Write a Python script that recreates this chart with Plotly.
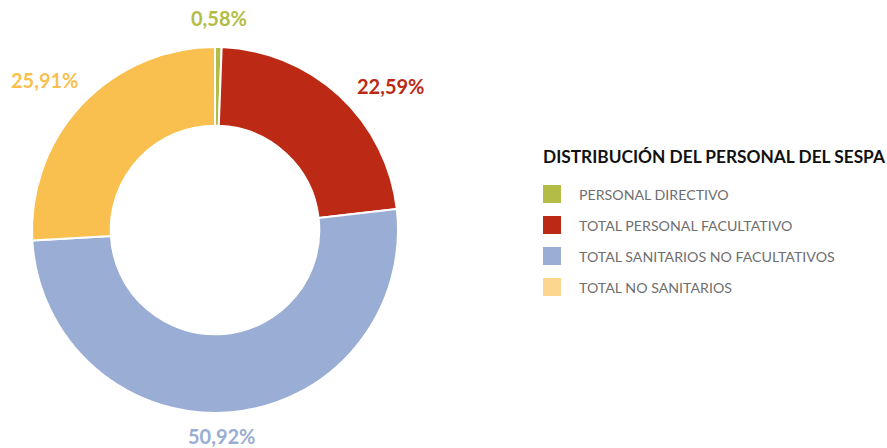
import math
import plotly.graph_objects as go

# ---- data ----
categories = ["PERSONAL DIRECTIVO", "TOTAL PERSONAL FACULTATIVO",
              "TOTAL SANITARIOS NO FACULTATIVOS", "TOTAL NO SANITARIOS"]
values = [0.58, 22.59, 50.92, 25.91]
legend_title = "DISTRIBUCIÓN DEL PERSONAL DEL SESPA"

# ---- styles ----
slice_colors = ["#b3bd45", "#bc2a16", "#9aadd4", "#f9c04f"]
legend_colors = ["#b3bd45", "#bc2a16", "#9aadd4", "#fcd68e"]
label_nudges = [(0, 0), (6, 15), (-11, 0), (9, 0)]  # pixel nudges for labels
W, H = 887, 448
FONT = "Lato, 'Open Sans', sans-serif"

cx, cy, R = 215, 230, 183  # pie centre / radius in pixels

fig = go.Figure(go.Pie(
    labels=categories, values=values, sort=False, direction="clockwise",
    rotation=0, hole=0.57, textinfo="none", hoverinfo="label+percent",
    marker=dict(colors=slice_colors, line=dict(color="white", width=2)),
    domain=dict(x=[(cx - R) / W, (cx + R) / W],
                y=[(H - cy - R) / H, (H - cy + R) / H]),
    showlegend=False,
))

annotations = []
shapes = []

# percentage labels placed outside each slice at its mid-angle
total = sum(values)
cum = 0.0
label_r = 198
for v, col, (nx, ny) in zip(values, slice_colors, label_nudges):
    mid = (cum + v / 2) / total * 2 * math.pi
    cum += v
    s, c = math.sin(mid), math.cos(mid)
    px = cx + label_r * s + nx
    py = cy - label_r * c + ny
    xa = "left" if s > 0.3 else ("right" if s < -0.3 else "center")
    ya = "bottom" if c > 0.3 else "middle"
    if c < -0.3:
        py = cy - (label_r + 9) * c + ny
    annotations.append(dict(
        x=px / W, y=1 - py / H, xref="paper", yref="paper",
        xanchor=xa, yanchor=ya, showarrow=False,
        text="<b>" + f"{v:.2f}".replace(".", ",") + "%</b>",
        font=dict(family=FONT, size=20, color=col)))

# custom legend
annotations.append(dict(
    x=541 / W, y=1 - 156 / H, xref="paper", yref="paper",
    xanchor="left", yanchor="middle", showarrow=False,
    text="<b>" + legend_title + "</b>",
    font=dict(family=FONT, size=17.3, color="#111111")))
for i, (name, col) in enumerate(zip(categories, legend_colors)):
    yc = 194 + 31 * i
    shapes.append(dict(type="rect", xref="paper", yref="paper",
                       x0=543 / W, x1=561 / W,
                       y0=1 - (yc - 9) / H, y1=1 - (yc + 9) / H,
                       fillcolor=col, line=dict(width=0)))
    annotations.append(dict(
        x=577 / W, y=1 - yc / H, xref="paper", yref="paper",
        xanchor="left", yanchor="middle", showarrow=False,
        text=name, font=dict(family=FONT, size=14.2, color="#6f6f6f")))

fig.update_layout(
    width=W, height=H, margin=dict(l=0, r=0, t=0, b=0), autosize=False,
    paper_bgcolor="white", plot_bgcolor="white",
    annotations=annotations, shapes=shapes,
)

fig.write_html("out.html", config={"displayModeBar": False},
               post_script="document.body.style.margin='0';"
                           "document.body.style.overflow='hidden';")
